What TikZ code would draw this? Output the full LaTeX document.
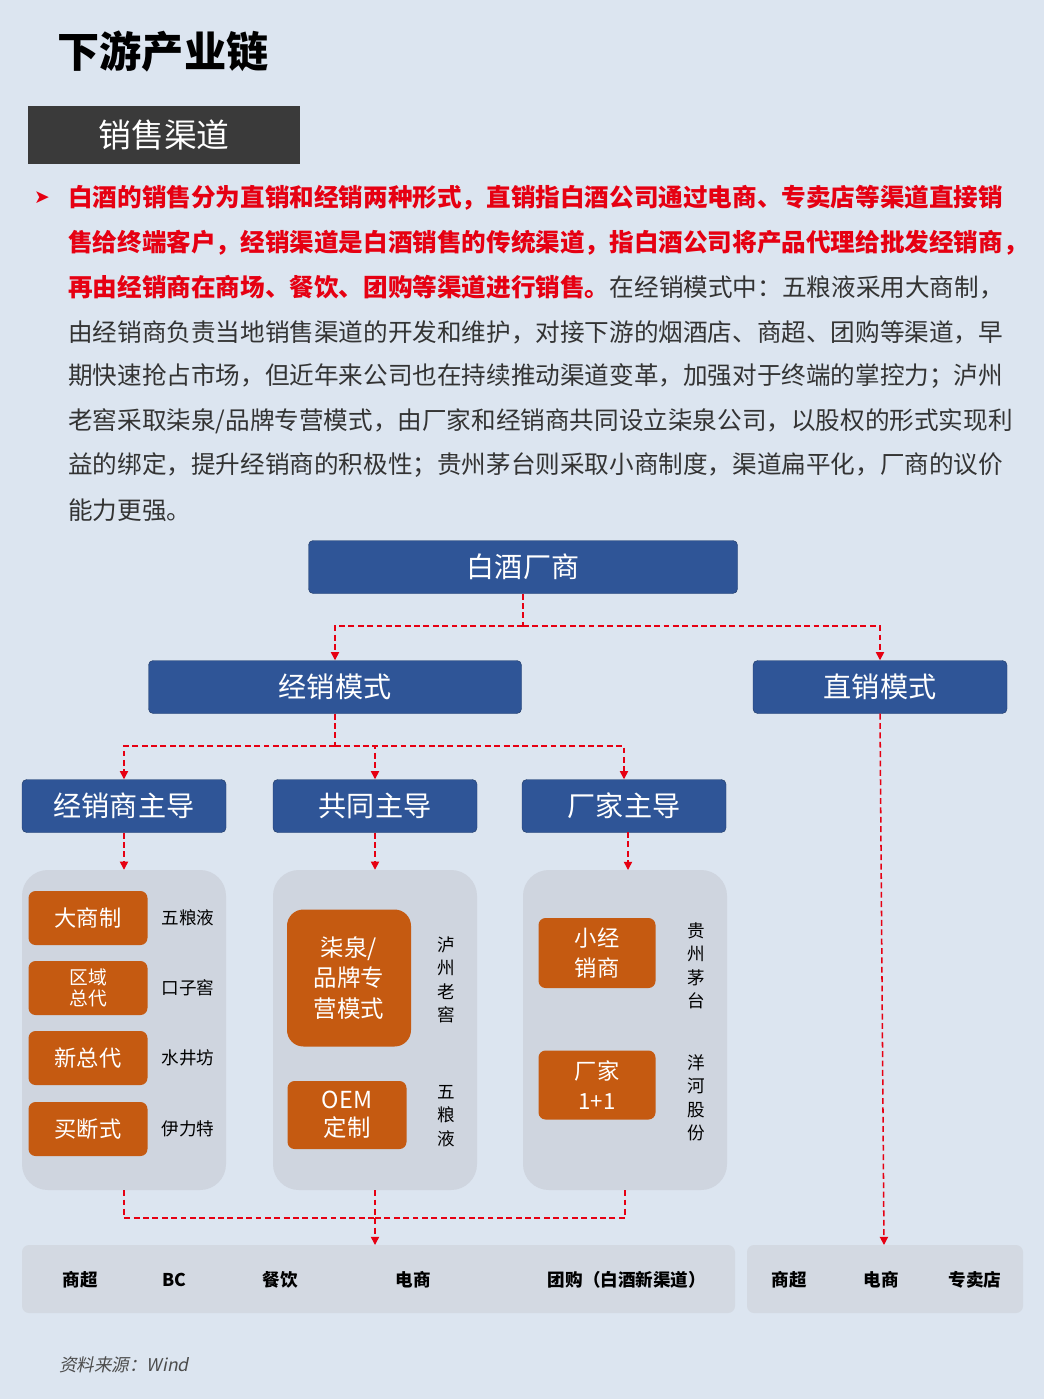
\documentclass[tikz,border=0pt]{standalone}
\usepackage{fontspec}
\setmainfont{Noto Sans CJK SC}
\newfontfamily\djv{DejaVu Sans}
\newfontfamily\slantcjk[FakeSlant=0.2]{Noto Sans CJK SC}
\usetikzlibrary{arrows.meta}
\definecolor{bg}{HTML}{DCE5F0}
\definecolor{bluebox}{HTML}{2F5597}
\definecolor{panel}{HTML}{CFD5DF}
\definecolor{orangebox}{HTML}{C55A11}
\definecolor{redtxt}{HTML}{E60012}
\definecolor{dark}{HTML}{3A3A3A}
\definecolor{bar}{HTML}{D3D9E2}
\begin{document}
\begin{tikzpicture}[x=0.03cm,y=-0.03cm,
 bbox/.style={fill=bluebox,draw=bluebox!70!black,rounded corners=4pt,text=white,font=\fontsize{24}{28}\selectfont},
 pnl/.style={fill=panel,rounded corners=22pt},
 obox/.style={fill=orangebox,rounded corners=6pt,text=white,align=center,font=\fontsize{19}{21}\selectfont},
 lbl/.style={font=\fontsize{15}{18}\selectfont,align=center},
 para/.style={anchor=west,inner sep=0pt,font=\fontsize{21}{24}\selectfont,text=black!80},
 rpara/.style={para,text=redtxt,font=\fontsize{21}{24}\selectfont\bfseries},
 conn/.style={draw=redtxt,dash pattern=on 5pt off 3pt,line width=1.3pt},
 arr/.style={conn,-{Triangle[length=7pt,width=7pt]}},
 btxt/.style={font=\fontsize{15}{18}\selectfont\bfseries}]
\useasboundingbox (0,0) rectangle (1044,1399);
\fill[bg] (0,0) rectangle (1044,1399);
\node[font=\fontsize{36}{40}\selectfont\bfseries] (title) at (163,52) {下游产业链};
\fill[dark] (28,106) rectangle (300,164);
\node[text=white,font=\fontsize{28}{30}\selectfont] (sec) at (164,135) {销售渠道};
\node[text=redtxt,font=\fontsize{16}{18}\djv] (bul) at (42,198) {➤};
\node[rpara] (l1) at (68,198) {白酒的销售分为直销和经销两种形式，直销指白酒公司通过电商、专卖店等渠道直接销};
\node[rpara] (l2) at (68,243) {售给终端客户，经销渠道是白酒销售的传统渠道，指白酒公司将产品代理给批发经销商，};
\node[rpara] (l3) at (68,287) {再由经销商在商场、餐饮、团购等渠道进行销售。};
\node[para] (l3b) at (l3.east) {在经销模式中：五粮液采用大商制，};
\node[para] (l4) at (68,332) {由经销商负责当地销售渠道的开发和维护，对接下游的烟酒店、商超、团购等渠道，早};
\node[para] (l5) at (68,376) {期快速抢占市场，但近年来公司也在持续推动渠道变革，加强对于终端的掌控力；泸州};
\node[para] (l6) at (68,421) {老窖采取柒泉/品牌专营模式，由厂家和经销商共同设立柒泉公司，以股权的形式实现利};
\node[para] (l7) at (68,465) {益的绑定，提升经销商的积极性；贵州茅台则采取小商制度，渠道扁平化，厂商的议价};
\node[para] (l8) at (68,510) {能力更强。};
% blue boxes
\node[bbox,minimum width=429*0.03cm,minimum height=53*0.03cm] (top) at (523,567) {白酒厂商};
\node[bbox,minimum width=373*0.03cm,minimum height=53*0.03cm] (jx) at (335,687) {经销模式};
\node[bbox,minimum width=254*0.03cm,minimum height=53*0.03cm] (zx) at (880,687) {直销模式};
\node[bbox,minimum width=204*0.03cm,minimum height=53*0.03cm] (h1) at (124,806) {经销商主导};
\node[bbox,minimum width=204*0.03cm,minimum height=53*0.03cm] (h2) at (375,806) {共同主导};
\node[bbox,minimum width=204*0.03cm,minimum height=53*0.03cm] (h3) at (624,806) {厂家主导};
% panels
\node[pnl,minimum width=204*0.03cm,minimum height=320*0.03cm] (p1) at (124,1030) {};
\node[pnl,minimum width=204*0.03cm,minimum height=320*0.03cm] (p2) at (375,1030) {};
\node[pnl,minimum width=204*0.03cm,minimum height=320*0.03cm] (p3) at (625,1030) {};
% panel 1
\node[obox,minimum width=119*0.03cm,minimum height=54*0.03cm] (a1) at (88,918) {大商制};
\node[obox,minimum width=119*0.03cm,minimum height=54*0.03cm,font=\fontsize{16}{18}\selectfont] (a2) at (88,988) {区域\\总代};
\node[obox,minimum width=119*0.03cm,minimum height=54*0.03cm] (a3) at (88,1058) {新总代};
\node[obox,minimum width=119*0.03cm,minimum height=54*0.03cm] (a4) at (88,1129) {买断式};
\node[lbl] (b1) at (188,918) {五粮液};
\node[lbl] (b2) at (188,988) {口子窖};
\node[lbl] (b3) at (188,1058) {水井坊};
\node[lbl] (b4) at (188,1129) {伊力特};
% panel 2
\node[obox,minimum width=124*0.03cm,minimum height=137*0.03cm,rounded corners=14pt,font=\fontsize{20}{26}\selectfont] (c1) at (349,978) {柒泉/\\品牌专\\营模式};
\node[obox,minimum width=119*0.03cm,minimum height=68*0.03cm,font=\fontsize{20}{24}\selectfont] (c2) at (347,1115) {OEM\\定制};
\node[lbl,font=\fontsize{15}{20}\selectfont] (d1) at (446,980) {泸\\州\\老\\窖};
\node[lbl,font=\fontsize{15}{20}\selectfont] (d2) at (446,1116) {五\\粮\\液};
% panel 3
\node[obox,minimum width=117*0.03cm,minimum height=70*0.03cm,font=\fontsize{19}{25}\selectfont] (e1) at (597,953) {小经\\销商};
\node[obox,minimum width=117*0.03cm,minimum height=69*0.03cm,font=\fontsize{19}{25}\selectfont] (e2) at (597,1085) {厂家\\1+1};
\node[lbl,font=\fontsize{15}{20}\selectfont] (f1) at (696,966) {贵\\州\\茅\\台};
\node[lbl,font=\fontsize{15}{20}\selectfont] (f2) at (696,1098) {洋\\河\\股\\份};
% bottom bars
\node[fill=bar,rounded corners=6pt,minimum width=713*0.03cm,minimum height=68*0.03cm] (bar1) at (378.5,1279) {};
\node[fill=bar,rounded corners=6pt,minimum width=276*0.03cm,minimum height=68*0.03cm] (bar2) at (885,1279) {};
\node[btxt] (g1) at (80,1280) {商超};
\node[btxt] (g2) at (174,1280) {BC};
\node[btxt] (g3) at (280,1280) {餐饮};
\node[btxt] (g4) at (413,1280) {电商};
\node[btxt] (g5) at (627,1280) {团购（白酒新渠道）};
\node[btxt] (k1) at (789,1280) {商超};
\node[btxt] (k2) at (881,1280) {电商};
\node[btxt] (k3) at (975,1280) {专卖店};
\node[font=\fontsize{15}{18}\slantcjk,text=black!70] (src) at (124,1365) {资料来源：Wind};
% connectors
\coordinate (t1) at (523,626);
\draw[conn] (top.south) -- (t1);
\draw[arr] (t1) -| (jx.north);
\draw[arr] (t1) -| (zx.north);
\coordinate (t2) at (335,746);
\draw[conn] (jx.south) -- (t2);
\draw[arr] (t2) -| (h1.north);
\draw[arr] (t2) -| (h2.north);
\draw[arr] (t2) -| (h3.north);
\draw[arr] (h1.south) -- (p1.north);
\draw[arr] (h2.south) -- (p2.north);
\draw[arr] (628,832) -- (628,870);
\coordinate (t3) at (375,1218);
\draw[conn] (p1.south) |- (t3);
\draw[conn] (p3.south) |- (t3);
\draw[arr] (p2.south) -- (375,1245);
\draw[arr] (zx.south) -- (884,1245);
\end{tikzpicture}
\end{document}
